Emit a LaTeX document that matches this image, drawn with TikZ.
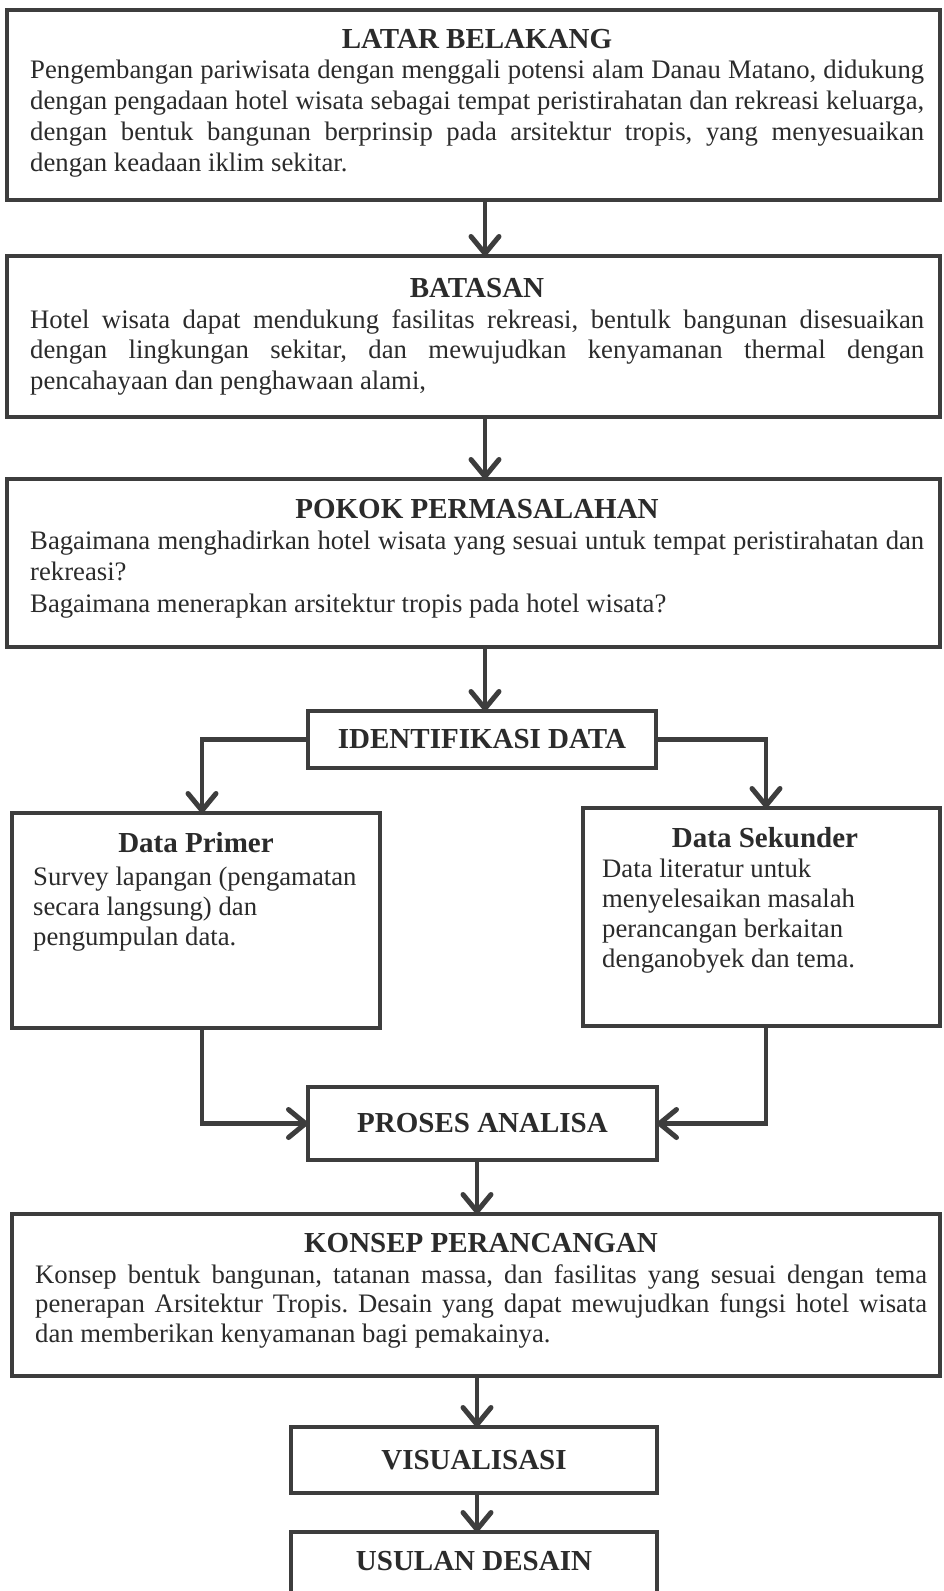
\documentclass[tikz,border=0pt]{standalone}
\usepackage{fontspec}
\setmainfont{Liberation Serif}
\usetikzlibrary{arrows.meta}
\definecolor{ink}{HTML}{2B2B2B}
\definecolor{rule}{HTML}{3D3D3D}
% natural, stretchable interword spaces inside node text
\newcommand{\natspace}{\spaceskip=0pt\xspaceskip=0pt\frenchspacing}
% a justified line of fixed width
\newcommand{\jl}[2]{{\natspace\makebox[#1][s]{#2}}}

\begin{document}
\begin{tikzpicture}[x=1pt,y=-1pt,
  panel/.style={draw=rule, line width=4.8pt, inner sep=0pt, outer sep=0pt, anchor=north west,
                text=ink, font=\fontsize{29}{31}\selectfont\bfseries},
  heading/.style={inner sep=0pt, anchor=base, text=ink, font=\fontsize{29}{31}\selectfont\bfseries},
  body/.style={inner sep=0pt, anchor=base west, text=ink,
               font={\fontsize{26.7}{#1}\selectfont}},
  flow/.style={draw=rule, line width=4.8pt,
               -{Straight Barb[length=17pt,width=28pt,line width=5pt,round]}}
]
\useasboundingbox (0,0) rectangle (943,1591);
\fill[white] (0,0) rectangle (943,1591);

% ---------- main boxes ----------
\node[panel, minimum width=933pt, minimum height=190pt] (latar) at (7,10) {};
\node[heading] (latarT) at (477,48) {LATAR BELAKANG};
\node[body=31pt, text width=894pt] (latarB) at (30,78) {\natspace
\jl{894pt}{Pengembangan pariwisata dengan menggali potensi alam Danau Matano, didukung}\\
\jl{894pt}{dengan pengadaan hotel wisata sebagai tempat peristirahatan dan rekreasi keluarga,}\\
\jl{894pt}{dengan bentuk bangunan berprinsip pada arsitektur tropis, yang menyesuaikan}\\
dengan keadaan iklim sekitar.};

\node[panel, minimum width=933pt, minimum height=161pt] (batasan) at (7,256) {};
\node[heading] (batasanT) at (477,297) {BATASAN};
\node[body=30.5pt, text width=894pt] (batasanB) at (30,328) {\natspace
\jl{894pt}{Hotel wisata dapat mendukung fasilitas rekreasi, bentulk bangunan disesuaikan}\\
\jl{894pt}{dengan lingkungan sekitar, dan mewujudkan kenyamanan thermal dengan}\\
pencahayaan dan penghawaan alami,};

\node[panel, minimum width=933pt, minimum height=168pt] (pokok) at (7,479) {};
\node[heading] (pokokT) at (477,518) {POKOK PERMASALAHAN};
\node[body=31.5pt, text width=894pt] (pokokB) at (30,549) {\natspace
\jl{894pt}{Bagaimana menghadirkan hotel wisata yang sesuai untuk tempat peristirahatan dan}\\
rekreasi?\\
Bagaimana menerapkan arsitektur tropis pada hotel wisata?};

\node[panel, minimum width=348pt, minimum height=57pt] (ident) at (308,711) {IDENTIFIKASI DATA};

% ---------- data branches ----------
\node[panel, minimum width=368pt, minimum height=215pt] (primer) at (12,813) {};
\node[heading] (primerT) at (196,852) {Data Primer};
\node[body=30pt, text width=340pt] (primerB) at (33,885) {\natspace
Survey lapangan (pengamatan\\
secara langsung) dan\\
pengumpulan data.};

\node[panel, minimum width=357pt, minimum height=218pt] (sekunder) at (583,808) {};
\node[heading] (sekunderT) at (765,847) {Data Sekunder};
\node[body=30pt, text width=320pt] (sekunderB) at (602,877) {\natspace
Data literatur untuk\\
menyelesaikan masalah\\
perancangan berkaitan\\
denganobyek dan tema.};

\node[panel, minimum width=349pt, minimum height=73pt] (proses) at (308,1087) {PROSES ANALISA};

% ---------- design stages ----------
\node[panel, minimum width=928pt, minimum height=162pt] (konsep) at (12,1214) {};
\node[heading] (konsepT) at (481,1252) {KONSEP PERANCANGAN};
\node[body=29.7pt, text width=892pt] (konsepB) at (35,1283) {\natspace
\jl{892pt}{Konsep bentuk bangunan, tatanan massa, dan fasilitas yang sesuai dengan tema}\\
\jl{892pt}{penerapan Arsitektur Tropis. Desain yang dapat mewujudkan fungsi hotel wisata}\\
dan memberikan kenyamanan bagi pemakainya.};

\node[panel, minimum width=366pt, minimum height=66pt] (visual) at (291,1427) {VISUALISASI};

\node[panel, draw=none, minimum width=366pt, minimum height=59pt] (usulan) at (291,1532) {USULAN DESAIN};
\draw[draw=rule, line width=4.8pt]
  (usulan.south west) -- (usulan.north west) -- (usulan.north east) -- (usulan.south east);

% ---------- connectors ----------
\coordinate (spine) at (485,0);
\coordinate (spineB) at (477,0);
\coordinate (leftdrop) at (202,0);
\coordinate (rightdrop) at (766,0);

\draw[flow] (latar.south -| spine) -- (batasan.north -| spine);
\draw[flow] (batasan.south -| spine) -- (pokok.north -| spine);
\draw[flow] (pokok.south -| spine) -- (ident.north -| spine);
\draw[flow] (ident.west) -| (primer.north -| leftdrop);
\draw[flow] (ident.east) -| (sekunder.north -| rightdrop);
\draw[flow] (primer.south -| leftdrop) |- (proses.west);
\draw[flow] (sekunder.south -| rightdrop) |- (proses.east);
\draw[flow] (proses.south -| spineB) -- (konsep.north -| spineB);
\draw[flow] (konsep.south -| spineB) -- (visual.north -| spineB);
\draw[flow] (visual.south -| spineB) -- (usulan.north -| spineB);
\end{tikzpicture}
\end{document}
